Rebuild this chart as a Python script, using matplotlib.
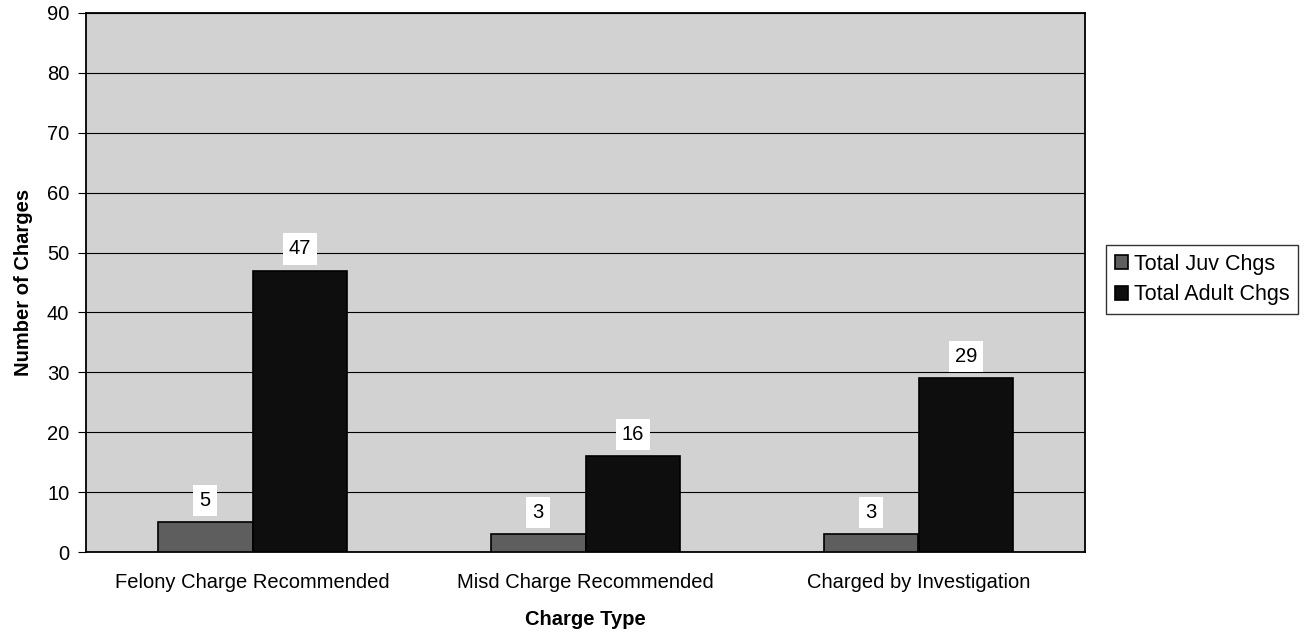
import matplotlib
matplotlib.use("Agg")
import matplotlib.pyplot as plt
import numpy as np

categories = ["Felony Charge Recommended", "Misd Charge Recommended", "Charged by Investigation"]
juv = [5, 3, 3]
adult = [47, 16, 29]
series_names = ["Total Juv Chgs", "Total Adult Chgs"]
yticks = list(range(0, 91, 10))

plt.rcParams['font.family'] = ['Liberation Sans', 'DejaVu Sans']
FS = 14.5

fig = plt.figure(figsize=(13.06, 6.33), dpi=100)
ax = fig.add_axes([86/1306, 1 - 552/633, (1085-86)/1306, (552-13)/633])
ax.set_facecolor("#d2d2d2")

x = np.arange(len(categories))
w = 0.285
b1 = ax.bar(x - w/2, juv, w, color="#5e5e5e", edgecolor="black", linewidth=1.2, label=series_names[0], zorder=3)
b2 = ax.bar(x + w/2, adult, w, color="#0e0e0e", edgecolor="black", linewidth=1.2, label=series_names[1], zorder=3)

for bars, vals in ((b1, juv), (b2, adult)):
    for r, v in zip(bars, vals):
        ax.text(r.get_x() + r.get_width()/2, v + 3.6, str(v), ha="center", va="center",
                fontsize=FS, zorder=5,
                bbox=dict(boxstyle="square,pad=0.3", fc="white", ec="none"))

ax.set_xlim(-0.5, 2.5)
ax.set_ylim(0, 90)
ax.set_yticks(yticks)
ax.set_yticklabels([str(t) for t in yticks], fontsize=FS)
ax.yaxis.grid(True, color="black", linewidth=0.8, zorder=1)
ax.set_axisbelow(True)
ax.set_xticks(x)
ax.set_xticklabels(categories, fontsize=FS)
ax.tick_params(axis="x", length=0, pad=15)
ax.tick_params(axis="y", length=6, direction="out", pad=6)
for s in ax.spines.values():
    s.set_linewidth(1.3)
    s.set_color("black")

ax.set_ylabel("Number of Charges", fontsize=FS, fontweight="bold", labelpad=10)
ax.set_xlabel("Charge Type", fontsize=FS, fontweight="bold", labelpad=13)

leg = fig.legend(handles=[b1, b2], labels=series_names, loc="upper left",
                 bbox_to_anchor=(1106/1306, 1 - 245/633), fontsize=15.5,
                 frameon=True, fancybox=False, edgecolor="black",
                 handlelength=0.6, handleheight=0.6, handletextpad=0.3,
                 borderpad=0.4, labelspacing=0.45, borderaxespad=0)
leg.get_frame().set_linewidth(1.0)

fig.savefig("out.png", dpi=100)
